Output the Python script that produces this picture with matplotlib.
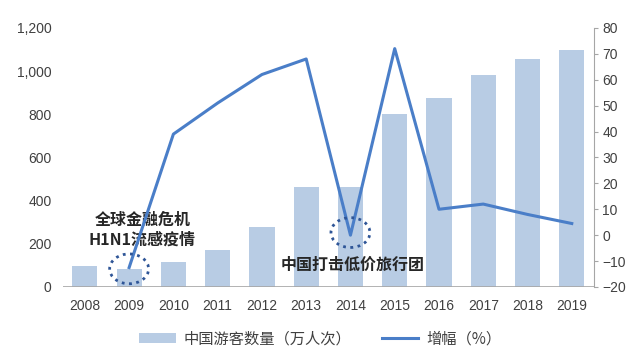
import matplotlib.pyplot as plt
import numpy as np
from matplotlib.patches import Ellipse

# 數據
years = ['2008', '2009', '2010', '2011', '2012', '2013', '2014', '2015', '2016', '2017', '2018', '2019']
visitors = [95, 84, 116, 172, 279, 465, 462, 800, 874, 981, 1056, 1098]   # 中国游客数量（万人次）
growth = [None, -12.5, 39, 51, 62, 68, 0, 72, 10, 12, 8, 4.5]              # 增幅（%）

BAR_COLOR = '#b8cce4'
LINE_COLOR = '#4a7ec8'
TEXT_COLOR = '#404040'

plt.rcParams['font.family'] = ['Liberation Sans', 'Noto Sans CJK SC', 'DejaVu Sans']


def main():
    fig = plt.figure(figsize=(6.4, 3.53), dpi=100)
    ax = fig.add_axes([0.098, 0.187, 0.83, 0.734])
    ax2 = ax.twinx()

    x = np.arange(len(years))
    ax.bar(x, visitors, width=0.57, color=BAR_COLOR, label='中国游客数量（万人次）', zorder=2)

    gx = [i for i, g in enumerate(growth) if g is not None]
    gy = [g for g in growth if g is not None]
    ax2.plot(gx, gy, color=LINE_COLOR, linewidth=2.2, label='增幅（%）', zorder=3)

    # 座標軸
    ax.set_xlim(-0.5, len(years) - 0.5)
    ax.set_ylim(0, 1200)
    ax.set_yticks(range(0, 1201, 200))
    ax.set_yticklabels([f'{v:,}' for v in range(0, 1201, 200)])
    ax2.set_ylim(-20, 80)
    ax2.set_yticks(range(-20, 81, 10))
    ax.set_xticks(x)
    ax.set_xticklabels(years)

    for a in (ax, ax2):
        for s in ('top', 'left', 'right'):
            a.spines[s].set_visible(False)
        a.spines['bottom'].set_visible(False)
    ax.axhline(0, color='#a6a6a6', linewidth=1.2, zorder=4)
    ax2.spines['right'].set_visible(True)
    ax2.spines['right'].set_color('#a6a6a6')

    ax.tick_params(axis='y', length=0, labelsize=10, labelcolor=TEXT_COLOR, pad=8)
    ax.tick_params(axis='x', length=0, labelsize=10, labelcolor=TEXT_COLOR, pad=9)
    ax2.tick_params(axis='y', length=3, color='#a6a6a6', labelsize=10, labelcolor=TEXT_COLOR, pad=3)

    # 標註
    e1 = Ellipse((1, -13), width=0.88, height=11.5, fill=False, edgecolor='#2e5597',
                 linestyle=(0, (1, 1.6)), linewidth=2, transform=ax2.transData, zorder=5)
    ax2.add_patch(e1)
    e2 = Ellipse((6, 1), width=0.88, height=11.5, fill=False, edgecolor='#2e5597',
                 linestyle=(0, (1, 1.6)), linewidth=2, transform=ax2.transData, zorder=5)
    ax2.add_patch(e2)

    ax.text(1.3, 265, '全球金融危机\nH1N1流感疫情', ha='center', va='center', fontsize=11.5,
            fontweight='bold', color='#262626', linespacing=1.3,
            family=['Noto Sans CJK SC', 'DejaVu Sans'], zorder=6)
    ax.text(6.05, 102, '中国打击低价旅行团', ha='center', va='center', fontsize=11.5,
            fontweight='bold', color='#262626',
            family=['Noto Sans CJK SC', 'DejaVu Sans'], zorder=6)

    # 圖例
    h1, l1 = ax.get_legend_handles_labels()
    h2, l2 = ax2.get_legend_handles_labels()
    fig.legend(h1 + h2, l1 + l2, loc='center', bbox_to_anchor=(0.5, 0.04), ncol=2,
               frameon=False, fontsize=11, labelcolor=TEXT_COLOR, handlelength=2.4,
               columnspacing=2.0, handletextpad=0.5,
               prop={'family': ['Noto Sans CJK SC', 'DejaVu Sans'], 'size': 11})

    fig.savefig('out.png', dpi=100)


if __name__ == '__main__':
    main()
